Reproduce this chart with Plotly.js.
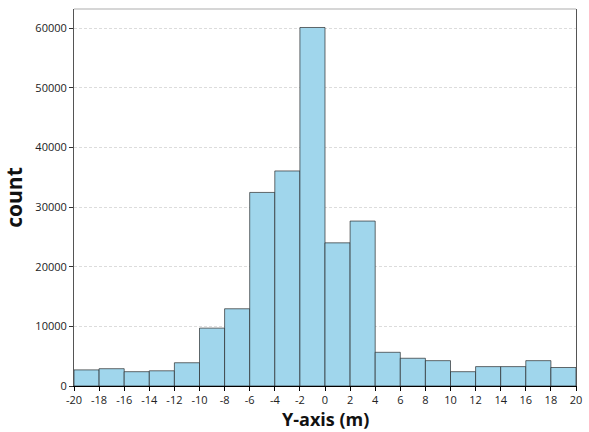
<!DOCTYPE html>
<html><head><meta charset="utf-8">
<script src="https://cdn.plot.ly/plotly-3.0.1.min.js"></script>
<style>html,body{margin:0;padding:0;background:#fff}#chart{width:589px;height:432px}</style>
</head><body><div id="chart"></div>
<script>
const binCenters = [-19,-17,-15,-13,-11,-9,-7,-5,-3,-1,1,3,5,7,9,11,13,15,17,19];
const counts = [2700,2900,2400,2550,3900,9700,12950,32450,36050,60100,24000,27650,5650,4650,4250,2400,3250,3250,4250,3100];
const xTicks = [-20,-18,-16,-14,-12,-10,-8,-6,-4,-2,0,2,4,6,8,10,12,14,16,18,20];
const yTicks = [0,10000,20000,30000,40000,50000,60000];

const trace = {
  type: 'bar', x: binCenters, y: counts, width: 2,
  marker: {color: '#a0d6ec', line: {color: 'rgba(30,30,30,0.65)', width: 1}},
  hoverinfo: 'x+y'
};
const layout = {
  width: 589, height: 432,
  margin: {l: 74, r: 13, t: 9, b: 46},
  paper_bgcolor: '#fff', plot_bgcolor: '#fff',
  font: {family: '"Open Sans", "Noto Sans", sans-serif', color: '#222', size: 11},
  showlegend: false, bargap: 0,
  xaxis: {
    range: [-20, 20], tickvals: xTicks, ticktext: xTicks.map(String),
    showgrid: false, zeroline: false, showline: true, linecolor: '#000', linewidth: 1,
    ticks: 'outside', ticklen: 4, tickcolor: '#000', tickfont: {size: 11, color: '#222'}
  },
  yaxis: {
    range: [0, 63200], tickvals: yTicks, ticktext: yTicks.map(String),
    showgrid: true, gridcolor: '#dcdcdc', griddash: '3px,2px', gridwidth: 1,
    zeroline: false, showline: true, linecolor: '#555', linewidth: 1, mirror: true,
    ticks: 'outside', ticklen: 4, tickcolor: '#333', tickfont: {size: 11, color: '#222'},
    title: {text: 'count', font: {size: 21, color: '#111', weight: 'bold'}, standoff: 8}
  },
  annotations: [{
    text: '<b>Y-axis (m)</b>', xref: 'paper', yref: 'paper', x: 0.5, y: -0.054,
    xanchor: 'center', yanchor: 'top', showarrow: false, borderpad: 0,
    font: {size: 18, color: '#111'}
  }],
  shapes: [{type: 'line', xref: 'paper', yref: 'paper', x0: 0, x1: 1, y0: 1, y1: 1,
    line: {color: '#c8c8c8', width: 1.5}}]
};
Plotly.newPlot('chart', [trace], layout, {displayModeBar: false, staticPlot: true});
</script></body></html>
